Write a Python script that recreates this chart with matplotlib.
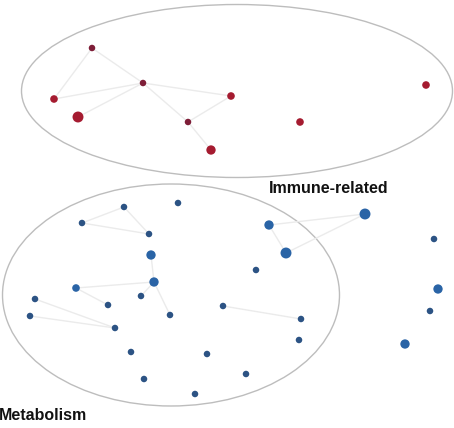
import matplotlib.pyplot as plt
from matplotlib.patches import Ellipse

# immune-related nodes (x, y in image pixels, size class)
immune_x = [92, 143, 54, 78, 231, 188, 211, 300, 426]
immune_y = [48, 83, 99, 117, 96, 122, 150, 122, 85]
immune_size = [1, 1, 2, 4, 2, 1, 3, 2, 2]
immune_edges = [(0, 1), (0, 2), (2, 1), (3, 1), (1, 4), (1, 5), (5, 4), (5, 6)]

# metabolism nodes
metab_x = [124, 178, 82, 149, 151, 154, 76, 35, 108, 141, 30, 115, 170, 223, 301,
           299, 131, 207, 144, 246, 195, 269, 286, 365, 256, 434, 438, 430, 405]
metab_y = [207, 203, 223, 234, 255, 282, 288, 299, 305, 296, 316, 328, 315, 306, 319,
           340, 352, 354, 379, 374, 394, 225, 253, 214, 270, 239, 289, 311, 344]
metab_size = [1, 1, 1, 1, 3, 3, 2, 1, 1, 1, 1, 1, 1, 1, 1,
              1, 1, 1, 1, 1, 1, 3, 4, 4, 1, 1, 3, 1, 3]
metab_edges = [(2, 0), (2, 3), (0, 3), (4, 5), (6, 5), (6, 8), (5, 9), (5, 12),
               (7, 11), (10, 11), (13, 14), (21, 23), (22, 23), (21, 22)]

size_map = {1: 22, 2: 30, 3: 45, 4: 62}

plt.rcParams['font.family'] = ['Liberation Sans', 'DejaVu Sans']

fig = plt.figure(figsize=(4.54, 4.28), dpi=100)
ax = fig.add_axes([0, 0, 1, 1])
ax.set_xlim(0, 454)
ax.set_ylim(428, 0)
ax.axis('off')

ax.add_patch(Ellipse((237, 91), 431, 173, fill=False, edgecolor='#bdbdbd', lw=1))
ax.add_patch(Ellipse((171, 295), 337, 222, fill=False, edgecolor='#bdbdbd', lw=1))


def draw_group(xs, ys, sizes, edges, light, dark):
    for a, b in edges:
        ax.plot([xs[a], xs[b]], [ys[a], ys[b]], color='#ebebeb', lw=1, zorder=1)
    cols = [dark if s == 1 else light for s in sizes]
    ax.scatter(xs, ys, s=[size_map[s] for s in sizes], c=cols, linewidths=0, zorder=3)


draw_group(immune_x, immune_y, immune_size, immune_edges, '#a51b30', '#7e1e38')
draw_group(metab_x, metab_y, metab_size, metab_edges, '#2a64a6', '#2c5384')

ax.text(329, 188, 'Immune-related', fontsize=11.5, fontweight='bold',
        ha='center', va='center', color='#111111')
ax.text(-1, 416, 'Metabolism', fontsize=11.5, fontweight='bold',
        ha='left', va='center', color='#111111')

fig.savefig('out.png', dpi=100)
